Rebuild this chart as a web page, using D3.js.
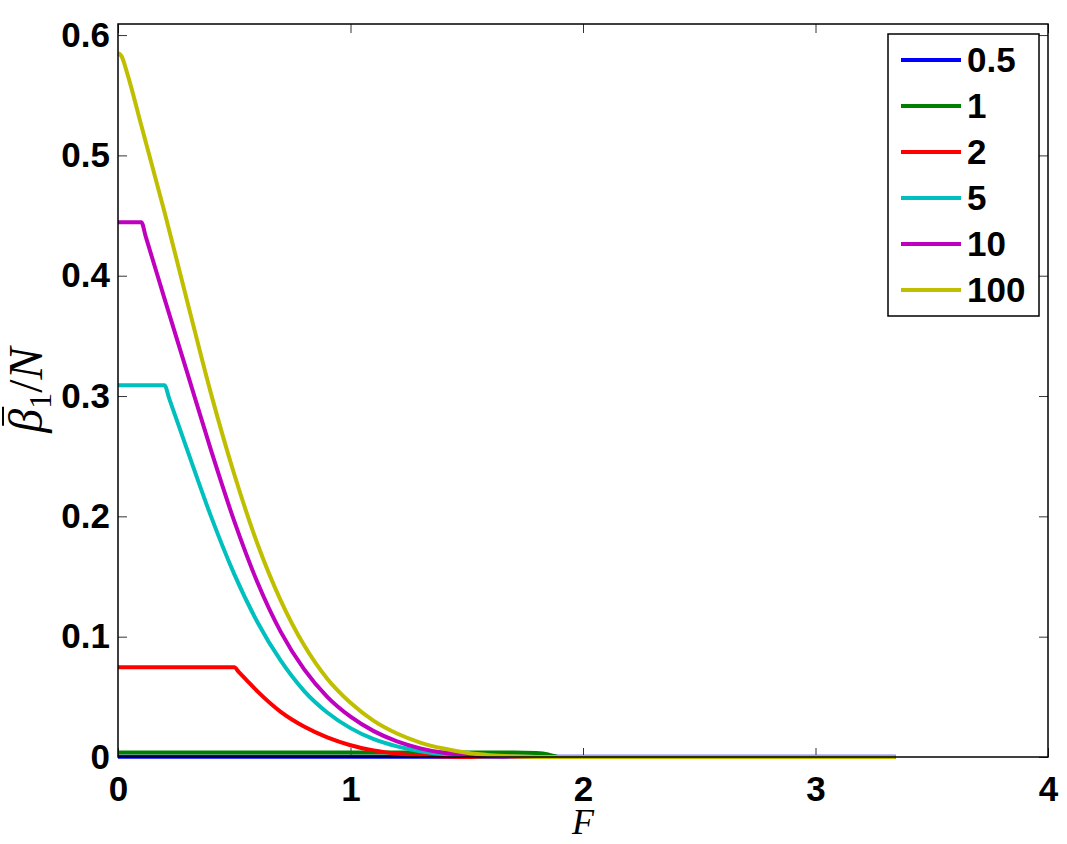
<!DOCTYPE html>
<html>
<head>
  <meta charset="UTF-8">
  <title>beta1/N vs F</title>
  <style>
    body { margin: 0; background: #fff; }
    svg { display: block; }
    .tick text { font-family: "Liberation Sans", Arial, sans-serif; font-weight: bold; font-size: 35px; fill: #000; }
    .tick line { stroke: #333; stroke-width: 1; }
    .legend text { font-family: "Liberation Sans", Arial, sans-serif; font-weight: bold; font-size: 35px; }
  </style>
</head>
<body>
<svg id="chart" width="1067" height="844"></svg>

<script src="https://cdnjs.cloudflare.com/ajax/libs/d3/7.8.5/d3.min.js"></script>
<script>
// series labels and colours (legend order)
var seriesNames = ['0.5', '1', '2', '5', '10', '100'];
var seriesColors = ['#0000ff', '#008000', '#ff0000', '#00bfbf', '#bf00bf', '#bfbf00'];

// values: F and beta1/N per series
var F_05 = [0, 3.345];
var V_05 = [0.0003, 0.0003];

var F_1 = [0, 1.7, 1.8, 1.85, 1.88, 1.9, 3.345];
var V_1 = [0.0037, 0.0037, 0.0033, 0.0022, 0.0006, 0, 0];

var F_2 = [0, 0.5, 0.52, 0.55, 0.6, 0.7, 0.8, 0.9, 1.0, 1.1, 1.2, 1.3, 1.4, 1.5, 3.345];
var V_2 = [0.0745, 0.0745, 0.0705, 0.0645, 0.0545, 0.0375, 0.0253, 0.0163, 0.0098, 0.0055, 0.0028, 0.0012, 0.0004, 0, 0];

var F_5 = [0, 0.2, 0.22, 0.3, 0.4, 0.5, 0.6, 0.7, 0.8, 0.9, 1.0, 1.1, 1.2, 1.3, 1.4, 1.5, 1.6, 1.7, 3.345];
var V_5 = [0.309, 0.309, 0.298, 0.254, 0.200, 0.152, 0.112, 0.080, 0.055, 0.037, 0.024, 0.0148, 0.0088, 0.0048, 0.0024, 0.001, 0.0003, 0, 0];

var F_10 = [0, 0.1, 0.12, 0.2, 0.3, 0.4, 0.5, 0.6, 0.7, 0.8, 0.9, 1.0, 1.1, 1.2, 1.3, 1.4, 1.5, 1.6, 1.7, 3.345];
var V_10 = [0.4445, 0.4445, 0.432, 0.381, 0.318, 0.255, 0.196, 0.145, 0.104, 0.073, 0.050, 0.0335, 0.0215, 0.013, 0.0072, 0.0035, 0.0015, 0.0005, 0.0001, 0];

var F_100 = [0, 0.015, 0.04, 0.1, 0.2, 0.3, 0.4, 0.5, 0.6, 0.7, 0.8, 0.9, 1.0, 1.1, 1.2, 1.3, 1.4, 1.5, 1.6, 1.7, 1.8, 3.345];
var V_100 = [0.585, 0.5825, 0.568, 0.525, 0.453, 0.377, 0.302, 0.235, 0.177, 0.130, 0.093, 0.065, 0.045, 0.030, 0.0195, 0.012, 0.007, 0.0035, 0.0015, 0.0005, 0.0001, 0];

var xTicks = [0, 1, 2, 3, 4];
var yTicks = [0, 0.1, 0.2, 0.3, 0.4, 0.5, 0.6];

var seriesF = [F_05, F_1, F_2, F_5, F_10, F_100];
var seriesV = [V_05, V_1, V_2, V_5, V_10, V_100];

var series = seriesNames.map(function(name, i) {
  return {
    name: name,
    color: seriesColors[i],
    values: seriesF[i].map(function(f, j) { return { f: f, v: seriesV[i][j] }; })
  };
});

// layout
var margin = { left: 118, top: 24, right: 19, bottom: 87 };
var width = 1067 - margin.left - margin.right,
  height = 844 - margin.top - margin.bottom;

var svg = d3.select('#chart');
svg.append('rect').attr('width', 1067).attr('height', 844).attr('fill', '#fff');

var g = svg.append('g').attr('transform', 'translate(' + margin.left + ',' + margin.top + ')');

var x = d3.scaleLinear().domain([0, 4]).range([0, width]);
var y = d3.scaleLinear().domain([0, 0.6092]).range([height, 0]);

var fmtY = function(d) { return d === 0 ? '0' : d3.format('.1f')(d); };

// axes (ticks pointing inward, mirrored on top/right)
g.append('g').attr('class', 'axis')
  .call(d3.axisLeft(y).tickValues(yTicks).tickSize(-9).tickPadding(8).tickFormat(fmtY))
  .call(function(s) { s.select('.domain').remove(); });

g.append('g').attr('class', 'axis')
  .attr('transform', 'translate(0,' + height + ')')
  .call(d3.axisBottom(x).tickValues(xTicks).tickSize(-9).tickPadding(19).tickFormat(d3.format('d')))
  .call(function(s) { s.select('.domain').remove(); });

g.append('g').attr('class', 'axis')
  .call(d3.axisTop(x).tickValues(xTicks).tickSize(-9).tickFormat(''))
  .call(function(s) { s.select('.domain').remove(); });

g.append('g').attr('class', 'axis')
  .attr('transform', 'translate(' + width + ',0)')
  .call(d3.axisRight(y).tickValues(yTicks).tickSize(-9).tickFormat(''))
  .call(function(s) { s.select('.domain').remove(); });

// lines
var line = d3.line()
  .x(function(d) { return x(d.f); })
  .y(function(d) { return y(d.v); })
  .curve(d3.curveMonotoneX);

g.append('g').selectAll('path')
  .data(series)
  .enter().append('path')
  .attr('d', function(d) { return line(d.values); })
  .attr('fill', 'none')
  .attr('stroke', function(d) { return d.color; })
  .attr('stroke-width', 4)
  .attr('stroke-linejoin', 'round');

// box
g.append('rect')
  .attr('width', width).attr('height', height)
  .attr('fill', 'none').attr('stroke', '#000').attr('stroke-width', 1.5);

// axis labels
svg.append('text')
  .attr('x', 583).attr('y', 834)
  .attr('text-anchor', 'middle')
  .style('font-family', '"Liberation Serif", "Times New Roman", serif')
  .style('font-style', 'italic')
  .style('font-size', '36px')
  .text('F');

// y label: beta-bar_1 / N, rotated
var ylg = svg.append('g').attr('transform', 'translate(42,390) rotate(-90)');
var yl = ylg.append('text')
  .attr('text-anchor', 'middle')
  .style('font-family', '"Liberation Serif", "Times New Roman", serif')
  .style('font-size', '48px');
yl.append('tspan').style('font-style', 'italic').text('\u03B2');
yl.append('tspan').attr('dy', 9).style('font-size', '32px').text('1');
yl.append('tspan').attr('dy', -9).text('/');
yl.append('tspan').style('font-style', 'italic').text('N');

// overline on beta
var bx = yl.node().getExtentOfChar(0);
ylg.append('line')
  .attr('x1', bx.x + 7).attr('x2', bx.x + bx.width + 2)
  .attr('y1', bx.y + 4).attr('y2', bx.y + 4)
  .attr('stroke', '#000').attr('stroke-width', 2);

// legend
var lg = svg.append('g').attr('class', 'legend');
lg.append('rect')
  .attr('x', 888).attr('y', 34).attr('width', 151).attr('height', 282)
  .attr('fill', '#fff').attr('stroke', '#000').attr('stroke-width', 1.5);

var rows = lg.selectAll('g.row')
  .data(series)
  .enter().append('g')
  .attr('class', 'row')
  .attr('transform', function(d, i) { return 'translate(0,' + (60 + 46 * i) + ')'; });

rows.append('line')
  .attr('x1', 901).attr('x2', 961)
  .attr('stroke', function(d) { return d.color; })
  .attr('stroke-width', 4);

rows.append('text')
  .attr('x', 967).attr('y', 12)
  .text(function(d) { return d.name; });
</script>
</body>
</html>
